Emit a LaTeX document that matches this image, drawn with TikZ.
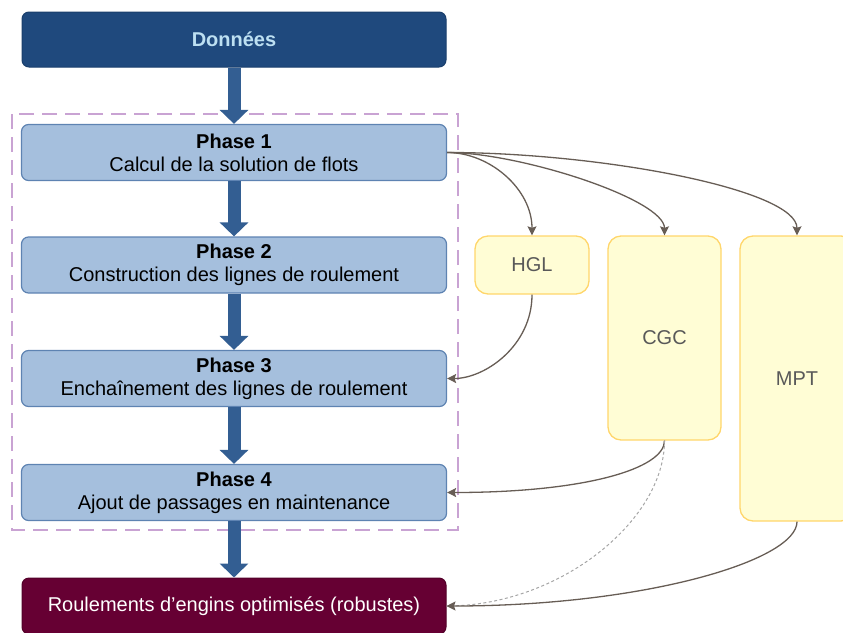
\documentclass[tikz,border=0pt]{standalone}
\usepackage{fontspec}
\setmainfont{Liberation Sans}
\usetikzlibrary{arrows.meta}
\definecolor{dblue}{HTML}{1F497D}
\definecolor{dbluedraw}{HTML}{1A3F6C}
\definecolor{dtext}{HTML}{BDE0F2}
\definecolor{arrblue}{HTML}{335E92}
\definecolor{phfill}{HTML}{A5BFDD}
\definecolor{phdraw}{HTML}{5E83B2}
\definecolor{dashc}{HTML}{C9A3D3}
\definecolor{maroon}{HTML}{660033}
\definecolor{yfill}{HTML}{FFFDD5}
\definecolor{ydraw}{HTML}{FFD66B}
\definecolor{connc}{HTML}{675D55}
\definecolor{ytext}{HTML}{595959}
\begin{document}
\begin{tikzpicture}[x=1pt,y=-1pt,
  txt/.style={font=\fontsize{20}{23}\selectfont},
  topbox/.style={txt,rectangle,rounded corners=7pt,minimum width=424pt,minimum height=55pt,inner sep=0pt,align=center},
  phasebox/.style={topbox,fill=phfill,draw=phdraw,line width=1.2pt,text=black,minimum width=425pt,minimum height=56pt},
  ybox/.style={txt,rectangle,rounded corners=13pt,fill=yfill,draw=ydraw,line width=1.3pt,text=ytext,minimum width=114pt,inner sep=0pt},
  bigarr/.style={draw=arrblue,line width=13pt,-{Triangle[width=28pt,length=14pt]}},
  conn/.style={draw=connc,line width=1.3pt,-{Stealth[length=9pt,width=9pt,inset=1.5pt]}},
  dotconn/.style={draw=black!35,line width=1pt,dash pattern=on 3pt off 2.5pt}
]
\useasboundingbox (0,0) rectangle (843,632);
% frame
\draw[dashc,line width=2pt,dash pattern=on 15pt off 8pt] (12,114) rectangle (458,530);
% nodes
\node[topbox,fill=dblue,draw=dbluedraw,line width=1pt,text=dtext,font=\fontsize{20}{23}\selectfont\bfseries] (d) at (234,39.5) {Données};
\node[phasebox] (p1) at (234,152.5) {\textbf{Phase 1}\\Calcul de la solution de flots};
\node[phasebox] (p2) at (234,265) {\textbf{Phase 2}\\Construction des lignes de roulement};
\node[phasebox] (p3) at (234,378.5) {\textbf{Phase 3}\\Enchaînement des lignes de roulement};
\node[phasebox] (p4) at (234,492.5) {\textbf{Phase 4}\\Ajout de passages en maintenance};
\node[topbox,fill=maroon,draw=maroon!80!black,line width=1pt,text=white,minimum height=56pt] (b) at (234,606) {Roulements d’engins optimisés (robustes)};
\node[ybox,minimum height=58pt] (h) at (532,265) {HGL};
\node[ybox,minimum width=113pt,minimum height=204pt] (c) at (664.5,338) {CGC};
\node[ybox,minimum height=285pt] (m) at (797,378.5) {MPT};
% thick arrows
\draw[bigarr] (d.south) -- (p1.north);
\draw[bigarr] (p1.south) -- (p2.north);
\draw[bigarr] (p2.south) -- (p3.north);
\draw[bigarr] (p3.south) -- (p4.north);
\draw[bigarr] (p4.south) -- (b.north);
% connectors
\draw[conn] (p1.east) .. controls +(43,0) and +(0,-46) .. (h.north);
\draw[conn] (p1.east) .. controls +(73,0) and +(0,-36) .. (c.north);
\draw[conn] (p1.east) .. controls +(153,0) and +(0,-46) .. (m.north);
\draw[conn] (h.south) .. controls +(0,51) and +(38,0) .. (p3.east);
\draw[conn] (c.south) .. controls +(0,28) and +(138,0) .. (p4.east);
\draw[dotconn] (c.south) .. controls +(0,80) and +(113,0) .. (b.east);
\draw[conn] (m.south) .. controls +(0,39) and +(197,0) .. (b.east);
\end{tikzpicture}
\end{document}
